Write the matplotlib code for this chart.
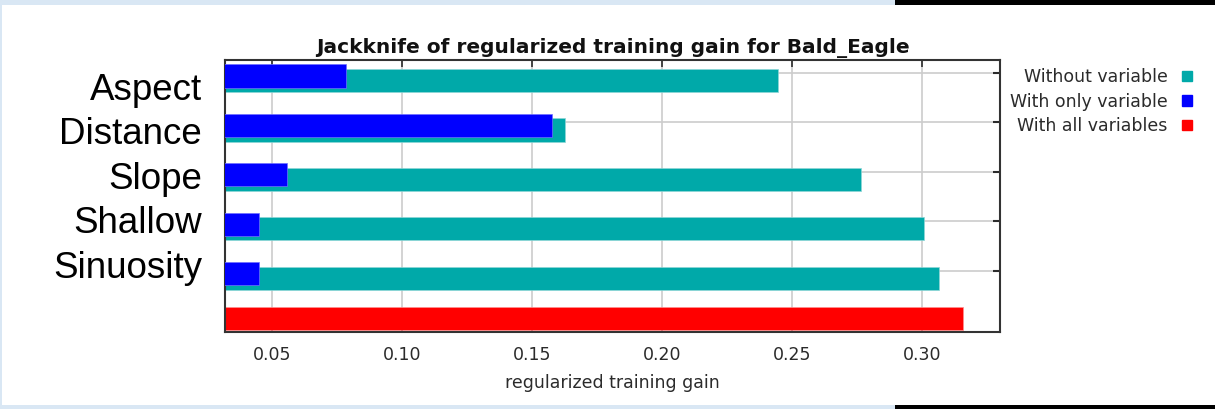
import matplotlib
matplotlib.use("Agg")
import numpy as np
from matplotlib import pyplot as plt
from matplotlib.patches import Rectangle

# values
variables = ["Aspect", "Distance", "Slope", "Shallow", "Sinuosity"]
without_variable = [0.2446, 0.1627, 0.2765, 0.3009, 0.3066]
with_only_variable = [0.0785, 0.1578, 0.0559, 0.0451, 0.0451]
with_all_variables = 0.3157
xticks = [0.05, 0.10, 0.15, 0.20, 0.25, 0.30]
legend_labels = ["Without variable", "With only variable", "With all variables"]

TEAL = "#00a9a9"
BLUE = "#0000ff"
RED = "#ff0000"
INK = "#2b2b2b"
GRID = "#cccccc"

W, H = 1215, 409
fig = plt.figure(figsize=(W / 100, H / 100), dpi=100, facecolor="#d9e7f4")


def px_rect(x0, y0, x1, y1, color):
    # rectangle given in image pixels (origin top-left)
    fig.patches.append(Rectangle((x0 / W, 1 - y1 / H), (x1 - x0) / W,
                                 (y1 - y0) / H, transform=fig.transFigure,
                                 facecolor=color, edgecolor="none", zorder=-5))


px_rect(2, 5, W, 405, "white")
px_rect(895, 0, W, 5, "black")
px_rect(895, 405, W, H, "black")

ax = fig.add_axes([225 / W, (H - 332) / H, 775 / W, 272 / H])
ax.set_facecolor("white")

pos = np.arange(len(variables))
ax.barh(pos + 0.155, without_variable, height=0.47, color=TEAL,
        edgecolor="#8fd6d6", linewidth=0.5, zorder=2)
ax.barh(pos + 0.06, with_only_variable, height=0.47, color=BLUE,
        edgecolor="#6f6fff", linewidth=0.5, zorder=3)
ax.barh([len(variables) - 0.035], [with_all_variables], height=0.47,
        color=RED, edgecolor="#ff8f8f", linewidth=0.5, zorder=2)

ax.set_xlim(0.0319, 0.33)
ax.set_ylim(5.243, -0.263)
ax.set_xticks(xticks)
ax.set_xticklabels([f"{v:.2f}" for v in xticks])
ax.set_yticks(pos)
ax.set_yticklabels([])

for x in xticks:
    ax.axvline(x, color=GRID, lw=1.2, zorder=1)
for y in pos:
    ax.axhline(y, color=GRID, lw=1.2, zorder=1)

ax.tick_params(axis="x", direction="in", top=True, bottom=True, length=5,
               width=1.2, color=INK, labelsize=12.5, labelcolor=INK, pad=10)
ax.tick_params(axis="y", direction="in", left=False, right=True, length=5,
               width=1.5, color=INK)
for s in ax.spines.values():
    s.set_color("#333333")
    s.set_linewidth(1.5)

ax.set_xlabel("regularized training gain", fontsize=12.5, color=INK, labelpad=7)
ax.set_title("Jackknife of regularized training gain for Bald_Eagle",
             fontsize=14.5, fontweight="bold", color="#111111", pad=5)

# category names set on the slide, larger than the chart text
baselines = [100, 144, 189, 233, 278]
for name, b in zip(variables, baselines):
    fig.text(202 / W, 1 - b / H, name, ha="right", va="baseline",
             fontsize=26.5, family="Liberation Sans", color="black")

handles = [Rectangle((0, 0), 1, 1, color=c) for c in (TEAL, BLUE, RED)]
fig.legend(handles, legend_labels, loc="upper right",
           bbox_to_anchor=(1192 / W, 1 - 68 / H), frameon=False,
           markerfirst=False, fontsize=12.5, labelcolor=INK,
           handlelength=0.55, handleheight=0.55, handletextpad=0.85,
           labelspacing=0.38, borderpad=0, borderaxespad=0)

fig.savefig("out.png", dpi=100, facecolor=fig.get_facecolor())
